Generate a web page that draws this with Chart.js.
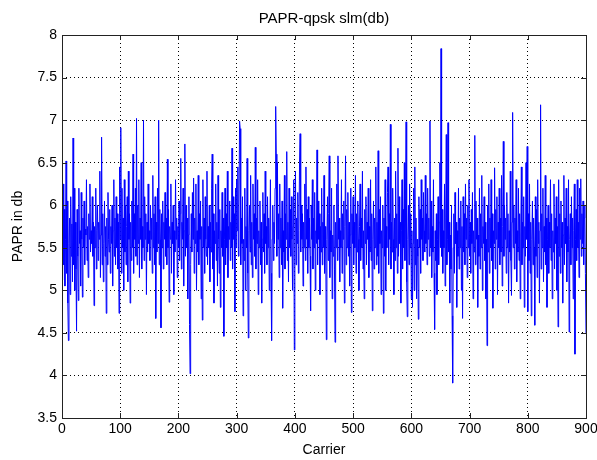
<!DOCTYPE html>
<html>
<head>
<meta charset="utf-8">
<script src="https://cdn.jsdelivr.net/npm/chart.js@4/dist/chart.umd.min.js"></script>
<style>
  html, body { margin: 0; padding: 0; background: #fff; }
  #wrap { width: 597px; height: 460px; }
</style>
</head>
<body>
<div id="wrap"><canvas id="paprChart" width="597" height="460"></canvas></div>
<script>
// PAPR per carrier (dB), carriers 1..900
const paprDb = [
  5.12,6.25,5.3,5.95,5.05,5.6,6.52,5.2,6.05,4.85,4.41,5.55,5.85,4.95,6.1,5.4,5.78,5.1,6.79,5.3,6.2,5.0,5.8,5.25,4.52,
  5.95,5.4,4.88,6.2,5.55,5.7,5.05,6.15,5.6,4.92,5.85,5.5,6.05,5.3,5.72,5.65,6.3,5.35,5.75,5.15,5.9,5.6,6.25,5.45,5.7,
  5.55,6.1,5.4,5.8,4.82,5.75,5.5,6.2,5.25,5.7,6.0,5.35,5.8,5.6,6.4,5.15,5.65,6.8,5.3,5.9,5.1,5.55,6.05,5.4,5.75,
  4.73,5.85,5.3,6.15,5.6,5.45,5.95,5.2,5.75,5.55,6.0,5.05,5.7,6.3,5.4,5.85,5.3,6.1,5.5,5.9,5.25,5.8,4.73,6.45,5.6,
  6.91,5.2,6.2,5.5,5.85,5.0,6.3,5.45,6.0,5.3,5.75,6.1,5.1,6.4,5.6,5.9,4.85,5.8,5.35,6.05,5.5,6.6,5.2,5.9,5.6,
  6.2,5.4,7.02,5.3,6.0,5.55,6.3,5.15,5.85,5.6,6.5,5.25,5.75,5.5,7.0,5.35,6.1,5.6,5.9,4.95,5.8,5.45,6.25,5.55,5.7,
  5.35,6.0,5.6,5.85,5.2,6.35,5.5,5.9,5.3,6.1,4.67,5.8,5.45,6.2,5.55,7.0,5.3,5.95,5.6,4.56,5.9,5.5,6.05,5.25,5.8,
  5.6,6.15,5.4,5.85,5.3,6.54,5.5,5.95,4.86,5.75,5.6,6.25,5.2,5.8,5.55,6.0,4.95,5.7,5.45,6.3,5.6,5.85,5.15,5.75,5.5,
  6.05,5.35,5.9,6.55,5.25,5.8,5.6,6.2,5.05,5.7,6.72,5.4,6.0,5.5,5.85,4.9,5.65,6.1,4.6,4.02,5.3,5.9,5.45,6.15,5.6,
  6.32,5.2,5.85,5.55,6.25,5.0,5.7,5.45,6.35,5.3,5.9,5.6,6.05,4.9,5.75,4.65,6.3,5.5,5.85,5.2,6.1,5.6,5.4,6.4,5.3,
  5.75,5.5,6.0,5.1,5.8,5.45,6.2,6.6,5.25,5.9,4.85,5.7,5.55,6.25,5.35,5.8,5.05,6.35,5.6,5.2,5.95,4.8,5.7,5.5,6.15,
  5.4,5.85,4.46,5.6,6.2,5.3,5.9,5.5,6.4,5.15,5.75,5.6,6.05,5.35,5.8,5.5,6.67,5.25,6.1,5.6,5.9,4.75,6.2,5.5,6.3,
  5.7,6.45,5.4,6.0,6.99,6.9,5.3,5.85,5.55,6.1,4.7,5.6,5.35,6.2,5.0,5.75,5.5,6.55,5.2,4.44,5.7,6.0,5.45,6.35,5.3,
  5.8,5.15,6.25,5.6,5.9,5.4,6.68,5.25,5.85,5.55,6.3,4.95,5.7,5.5,6.05,5.3,5.8,4.85,5.6,6.15,5.45,5.9,5.2,6.4,5.55,
  5.75,5.3,6.1,5.5,5.85,5.0,5.65,6.3,5.2,4.41,5.6,6.0,5.35,5.8,5.55,6.2,7.16,6.6,5.4,6.5,5.6,5.9,5.15,6.25,5.5,
  5.85,5.3,6.05,4.79,5.7,5.45,6.35,5.25,5.9,5.6,6.63,5.35,5.8,5.1,6.2,5.5,5.95,5.4,6.1,5.6,5.0,5.75,6.3,4.3,5.5,
  6.4,5.3,5.85,5.55,6.15,5.2,5.7,6.5,6.84,5.45,6.0,5.6,5.9,5.05,5.8,5.5,6.25,5.35,6.45,5.6,5.95,5.2,6.1,5.5,5.85,
  5.4,4.76,6.0,5.6,6.3,5.25,5.85,5.5,6.15,5.0,5.7,5.55,6.65,5.3,6.05,5.6,5.9,4.95,5.75,5.45,6.2,5.3,5.8,5.5,6.35,
  5.2,5.75,5.5,4.42,5.6,6.1,5.35,5.9,6.58,5.15,5.7,5.45,6.2,4.9,5.65,5.4,6.0,5.25,4.39,5.8,5.5,6.25,5.35,6.58,5.6,
  5.85,5.1,5.7,5.5,6.3,5.2,5.9,5.6,6.05,4.85,5.75,6.58,5.3,5.95,5.5,6.15,5.4,5.8,5.05,5.65,6.2,4.74,5.9,5.55,6.1,
  5.3,5.8,5.5,6.35,5.2,5.9,5.45,6.05,5.6,5.0,5.75,6.25,5.35,5.85,5.5,6.4,5.25,5.7,4.9,5.95,5.55,6.1,5.3,5.8,5.6,
  6.2,5.15,5.75,5.45,6.3,5.35,5.9,4.76,5.6,6.05,5.25,5.85,5.5,6.45,5.3,5.8,5.4,6.64,5.2,5.95,5.55,6.1,4.95,5.7,5.5,
  6.0,4.73,5.85,5.4,6.3,5.0,5.75,5.5,6.15,6.45,5.3,5.9,5.6,6.95,5.25,5.8,5.45,6.2,5.6,4.95,5.85,5.35,6.4,5.5,5.9,
  5.2,6.67,5.4,6.1,5.55,5.8,4.85,5.7,6.3,5.25,5.95,5.5,6.5,5.35,5.85,6.98,5.1,4.69,5.6,6.0,5.3,6.25,5.5,5.9,4.9,
  5.7,4.8,5.55,6.2,5.0,6.45,5.3,5.85,4.9,5.6,5.4,4.66,6.1,5.5,5.95,5.2,6.3,5.6,5.85,5.35,6.15,5.7,5.45,6.35,5.55,
  5.9,5.3,6.2,5.6,5.85,5.4,6.99,5.5,6.05,5.15,5.75,5.45,6.3,5.2,4.54,5.7,5.35,5.9,4.95,5.6,6.1,5.3,5.8,6.5,5.5,
  7.84,5.4,5.95,5.2,5.7,5.5,6.25,5.05,5.85,6.83,5.3,5.6,6.97,5.45,5.8,4.85,5.65,5.25,6.0,4.7,3.91,5.5,5.9,5.2,6.15,
  5.55,5.8,4.8,5.7,5.4,6.2,5.25,5.85,5.5,6.05,5.0,5.75,4.67,6.1,5.45,5.9,5.3,6.25,5.6,5.85,5.15,6.0,5.5,6.3,5.4,
  5.8,5.2,5.95,5.55,6.15,4.9,5.7,5.45,6.82,5.3,6.05,5.6,5.85,4.8,5.65,5.4,6.2,5.25,5.9,5.5,6.35,5.0,5.75,5.55,6.1,
  5.35,5.8,4.9,5.6,4.35,6.0,5.45,6.25,5.2,5.85,5.5,6.3,5.35,5.9,4.79,5.7,5.55,6.44,5.25,5.95,5.6,6.1,4.95,5.8,5.5,
  6.2,5.3,5.85,5.45,6.35,5.05,5.75,6.75,5.4,6.0,5.6,5.85,5.2,6.15,5.5,5.9,4.85,5.7,5.45,6.4,5.35,4.94,5.8,7.09,5.5,
  6.0,5.25,5.85,5.55,6.3,5.1,5.7,5.45,6.2,5.35,5.9,4.9,5.65,6.45,5.3,5.8,5.5,6.1,4.8,5.75,5.4,6.5,5.6,6.69,4.75,
  5.9,5.35,6.25,5.2,5.8,4.7,5.6,6.05,5.3,5.85,5.5,4.59,6.1,5.4,5.95,5.15,6.3,5.55,5.8,4.85,5.7,7.18,5.25,5.9,5.5,
  6.2,5.1,5.75,5.45,6.35,5.3,5.85,4.8,5.6,6.0,5.2,5.8,5.5,6.3,5.35,5.9,4.9,5.7,5.45,6.25,5.25,5.85,5.55,6.1,5.0,
  5.75,4.57,6.3,5.4,5.9,5.2,6.05,5.5,5.8,4.85,5.65,6.35,5.3,5.85,5.55,6.2,5.1,5.75,5.45,6.3,4.51,5.6,5.9,5.3,6.1,
  5.5,5.85,4.9,5.7,6.25,4.25,5.6,5.95,5.35,6.3,5.5,5.8,5.15,6.2,5.6,6.31,5.4,5.9,5.55,6.05,5.3,5.85,6.0,5.2,4.5
];

const xTicks = [0, 100, 200, 300, 400, 500, 600, 700, 800, 900];
const xTickLabels = ['0', '100', '200', '300', '400', '500', '600', '700', '800', '900'];
const yTicks = [3.5, 4, 4.5, 5, 5.5, 6, 6.5, 7, 7.5, 8];
const yTickLabels = ['3.5', '4', '4.5', '5', '5.5', '6', '6.5', '7', '7.5', '8'];

const FONT = 'Liberation Sans, Arial, Helvetica, sans-serif';

// matlab style: full box + inward tick marks on all four sides
const boxTicks = {
  id: 'boxTicks',
  afterDatasetsDraw(chart) {
    const { ctx, chartArea: a, scales } = chart;
    const len = 5;
    ctx.save();
    ctx.strokeStyle = '#222';
    ctx.lineWidth = 1;
    ctx.beginPath();
    xTicks.forEach(v => {
      const px = Math.round(scales.x.getPixelForValue(v)) + 0.5;
      ctx.moveTo(px, a.bottom); ctx.lineTo(px, a.bottom - len);
      ctx.moveTo(px, a.top); ctx.lineTo(px, a.top + len);
    });
    yTicks.forEach(v => {
      const py = Math.round(scales.y.getPixelForValue(v)) + 0.5;
      ctx.moveTo(a.left, py); ctx.lineTo(a.left + len, py);
      ctx.moveTo(a.right, py); ctx.lineTo(a.right - len, py);
    });
    ctx.stroke();
    ctx.strokeRect(Math.round(a.left) + 0.5, Math.round(a.top) + 0.5,
      Math.round(a.right - a.left), Math.round(a.bottom - a.top));
    ctx.restore();
  }
};

new Chart(document.getElementById('paprChart'), {
  type: 'line',
  data: {
    datasets: [{
      data: paprDb.map((v, i) => ({ x: i + 1, y: v })),
      borderColor: '#0000ff',
      borderWidth: 1,
      pointRadius: 0,
      tension: 0,
      fill: false
    }]
  },
  options: {
    responsive: false,
    animation: false,
    events: [],
    layout: { padding: { left: 0, right: 11, top: 0, bottom: 0 } },
    plugins: {
      legend: { display: false },
      tooltip: { enabled: false },
      title: {
        display: true,
        text: 'PAPR-qpsk slm(db)',
        fullSize: false,
        color: '#000',
        font: { family: FONT, size: 15, weight: 'normal' },
        padding: { top: 10, bottom: 7 }
      }
    },
    scales: {
      x: {
        type: 'linear',
        min: 0,
        max: 900,
        afterBuildTicks: s => { s.ticks = xTicks.map(v => ({ value: v })); },
        afterFit: s => { s.height = 42; s.paddingLeft = 0; s.paddingRight = 0; },
        ticks: {
          color: '#000',
          font: { family: FONT, size: 14 },
          padding: 3,
          maxRotation: 0,
          callback: (v) => xTickLabels[xTicks.indexOf(v)]
        },
        grid: { color: '#000', lineWidth: 1, drawTicks: false },
        border: { display: false, dash: [1, 3] },
        title: {
          display: true,
          text: 'Carrier',
          color: '#000',
          font: { family: FONT, size: 14 },
          padding: { top: 0, bottom: 1 }
        }
      },
      y: {
        type: 'linear',
        min: 3.5,
        max: 8,
        afterBuildTicks: s => { s.ticks = yTicks.map(v => ({ value: v })); },
        afterFit: s => { s.width = 62; s.paddingTop = 0; s.paddingBottom = 0; },
        ticks: {
          color: '#000',
          font: { family: FONT, size: 14 },
          padding: 5,
          callback: (v) => yTickLabels[yTicks.indexOf(v)]
        },
        grid: { color: '#000', lineWidth: 1, drawTicks: false },
        border: { display: false, dash: [1, 3] },
        title: {
          display: true,
          text: 'PAPR in db',
          color: '#000',
          font: { family: FONT, size: 14 },
          padding: { top: 10, bottom: 0 }
        }
      }
    }
  },
  plugins: [boxTicks]
});
</script>
</body>
</html>
